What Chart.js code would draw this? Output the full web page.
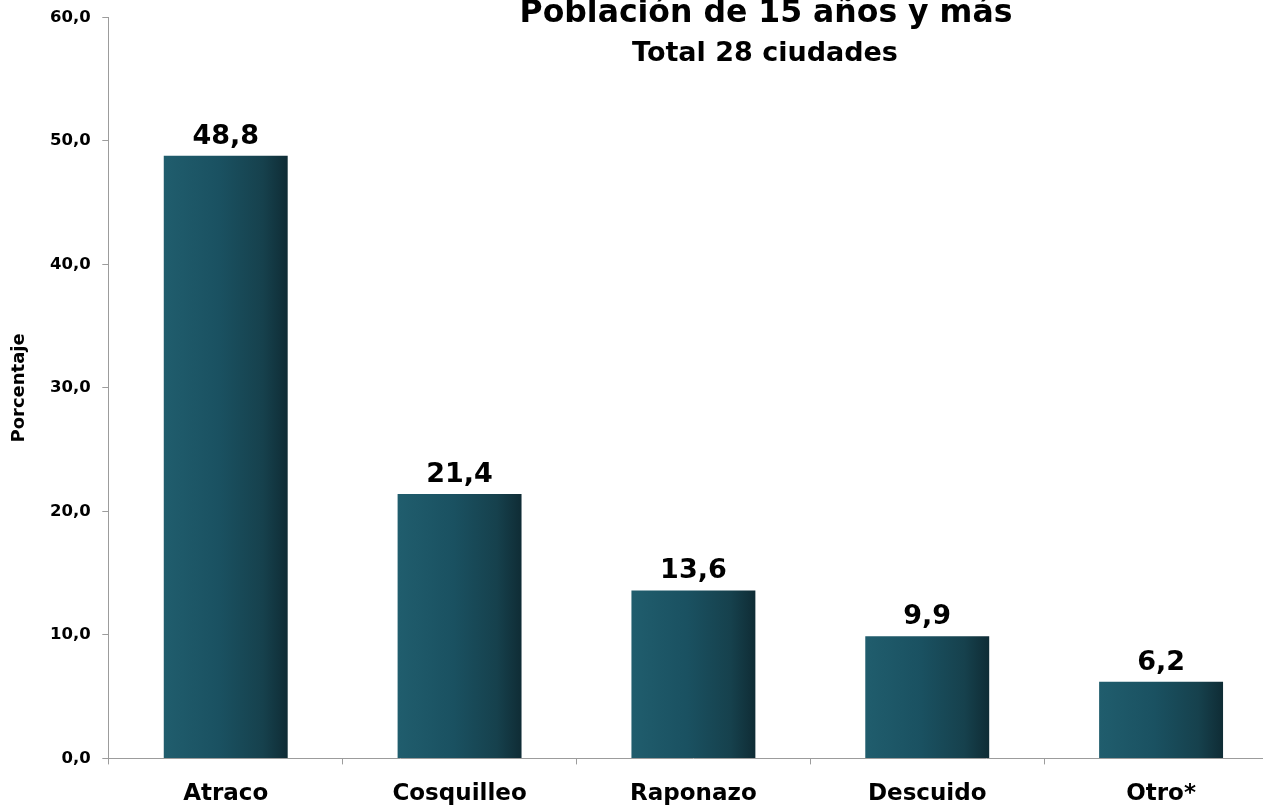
<!DOCTYPE html>
<html>
<head>
<meta charset="utf-8">
<script src="https://cdn.jsdelivr.net/npm/chart.js@4/dist/chart.umd.min.js"></script>
<style>
  html, body { margin: 0; padding: 0; background: #fff; overflow: hidden; }
  canvas { display: block; margin-top: -4px; }
</style>
</head>
<body>
<canvas id="bar" width="1280" height="828"></canvas>
<script>
const categories = ["Atraco", "Cosquilleo", "Raponazo", "Descuido", "Otro*"];
const values = [48.8, 21.4, 13.6, 9.9, 6.2];
const yTicks = [0, 10, 20, 30, 40, 50, 60];
const titleText = "Población de 15 años y más";
const subtitleText = "Total 28 ciudades";
const axisTitle = "Porcentaje";

const FONT = "'DejaVu Sans', sans-serif";
const AXIS_GRAY = "#9c9c9c";
const BAR_SHARE = 0.53;

function fmt(v) {
  return Number(v).toFixed(1).replace(".", ",");
}

// horizontal gradient across each bar
function barGradient(ctx) {
  const chart = ctx.chart;
  const x = chart.scales.x;
  if (!chart.chartArea || !x) return "#1b5060";
  const cx = x.getPixelForValue(ctx.dataIndex);
  const half = (x.width / categories.length) * BAR_SHARE / 2;
  const g = chart.ctx.createLinearGradient(cx - half, 0, cx + half, 0);
  g.addColorStop(0, "#205d6d");
  g.addColorStop(0.45, "#1a5161");
  g.addColorStop(0.8, "#16414d");
  g.addColorStop(1, "#0f2c35");
  return g;
}

const valueLabels = {
  id: "valueLabels",
  afterDatasetsDraw(chart) {
    const ctx = chart.ctx;
    const meta = chart.getDatasetMeta(0);
    ctx.save();
    ctx.font = "bold 27px " + FONT;
    ctx.fillStyle = "#000";
    ctx.textAlign = "center";
    ctx.textBaseline = "alphabetic";
    meta.data.forEach((bar, i) => {
      ctx.fillText(fmt(values[i]), bar.x, bar.y - 12);
    });
    ctx.restore();
  }
};

const titles = {
  id: "titles",
  afterDraw(chart) {
    const ctx = chart.ctx;
    ctx.save();
    ctx.fillStyle = "#000";
    ctx.textAlign = "center";
    ctx.textBaseline = "alphabetic";
    ctx.font = "bold 31.5px " + FONT;
    ctx.fillText(titleText, 766, 26);
    ctx.font = "bold 27px " + FONT;
    ctx.fillText(subtitleText, 765, 65);
    ctx.restore();
  }
};

new Chart(document.getElementById("bar"), {
  type: "bar",
  data: {
    labels: categories,
    datasets: [
      {
        label: axisTitle,
        data: values,
        backgroundColor: barGradient,
        borderWidth: 0,
        categoryPercentage: 1,
        barPercentage: BAR_SHARE,
      },
    ],
  },
  options: {
    responsive: false,
    animation: false,
    devicePixelRatio: 1,
    layout: { padding: { left: 0, right: 2, top: 12, bottom: 0 } },
    plugins: {
      legend: { display: false },
      title: { display: false },
      tooltip: { enabled: false },
    },
    scales: {
      x: {
        grid: {
          offset: true,
          drawOnChartArea: false,
          drawTicks: true,
          tickLength: 6,
          color: AXIS_GRAY,
        },
        border: { color: AXIS_GRAY, width: 1 },
        ticks: {
          color: "#000",
          padding: 16,
          font: { family: FONT, size: 23, weight: "bold" },
          maxRotation: 0,
        },
      },
      y: {
        min: yTicks[0],
        max: yTicks[yTicks.length - 1],
        afterBuildTicks(scale) {
          scale.ticks = yTicks.map((v) => ({ value: v }));
        },
        grid: {
          drawOnChartArea: false,
          drawTicks: true,
          tickLength: 6.5,
          color: AXIS_GRAY,
        },
        border: { color: AXIS_GRAY, width: 1 },
        ticks: {
          color: "#000",
          padding: 11.5,
          font: { family: FONT, size: 16.5, weight: "bold" },
          callback: (v) => fmt(v),
        },
        title: {
          display: true,
          text: axisTitle,
          color: "#000",
          font: { family: FONT, size: 18, weight: "bold" },
          padding: { top: 9, bottom: 8 },
        },
      },
    },
  },
  plugins: [valueLabels, titles],
});
</script>
</body>
</html>
